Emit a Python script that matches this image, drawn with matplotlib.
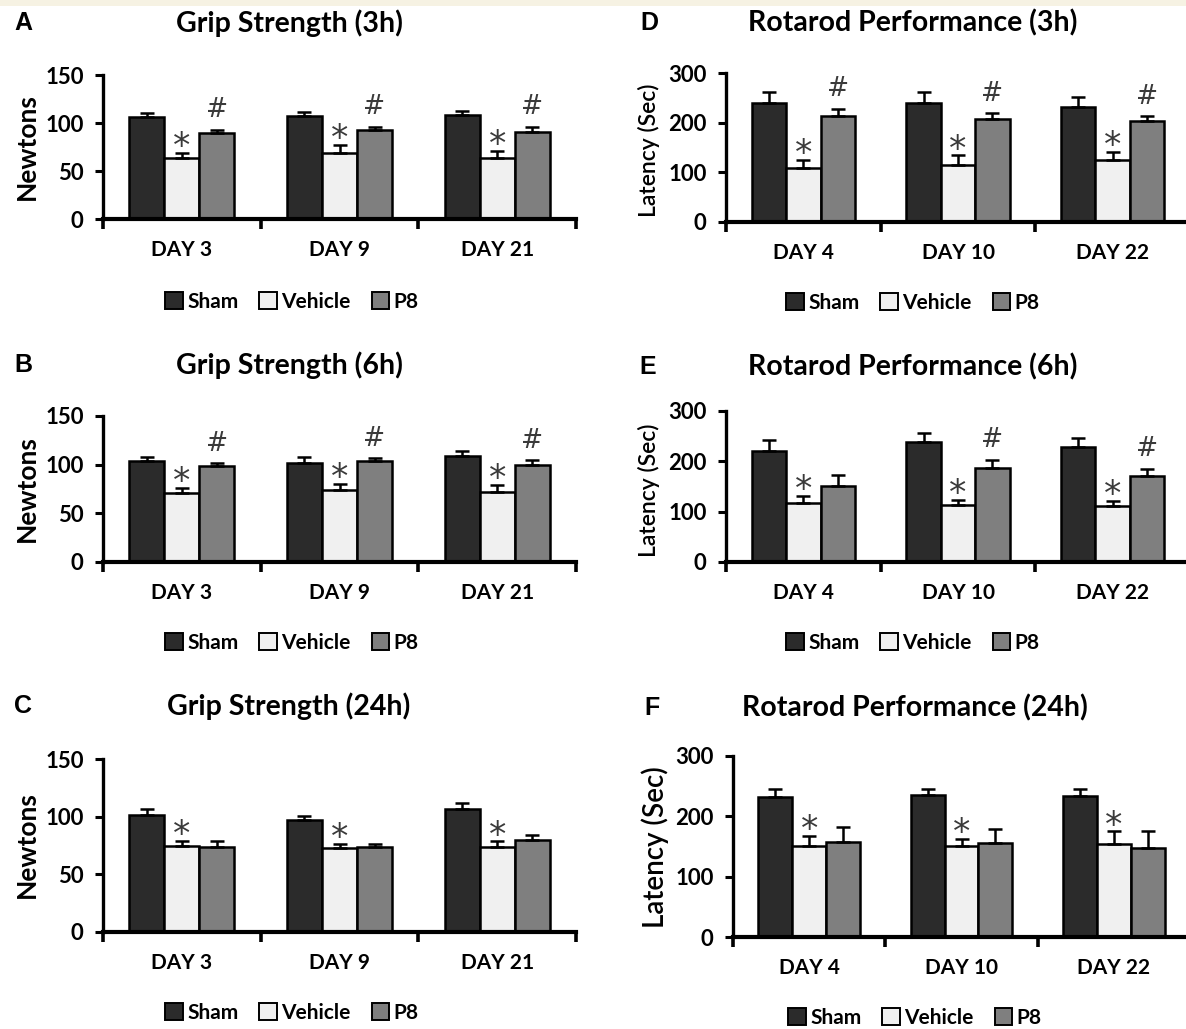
import matplotlib
matplotlib.use('Agg')
import matplotlib.pyplot as plt
from matplotlib.patches import Patch, Rectangle
import numpy as np

W, H = 1186, 1029
DPI = 100

plt.rcParams['font.family'] = ['Lato', 'DejaVu Sans']

groups = ['Sham', 'Vehicle', 'P8']
colors = ['#2b2b2b', '#f0f0f0', '#7f7f7f']

grip_days = ['DAY 3', 'DAY 9', 'DAY 21']
rota_days = ['DAY 4', 'DAY 10', 'DAY 22']

# grip strength (Newtons): means and upper SEM per group
grip3_sham, grip3_sham_err = [106, 107, 108], [4, 4, 5]
grip3_veh, grip3_veh_err = [63.5, 69, 63.5], [5, 8, 7.5]
grip3_p8, grip3_p8_err = [89.5, 92.5, 91], [3.5, 3.5, 5]

grip6_sham, grip6_sham_err = [104, 101.5, 108.5], [3.5, 6, 5.5]
grip6_veh, grip6_veh_err = [70.5, 74, 72], [5.5, 6, 7.5]
grip6_p8, grip6_p8_err = [98.5, 103.5, 100], [3, 3, 4.5]

grip24_sham, grip24_sham_err = [101.5, 97.5, 106.5], [5, 3.5, 5]
grip24_veh, grip24_veh_err = [75, 73, 73.5], [4, 3.5, 5]
grip24_p8, grip24_p8_err = [74, 73.5, 80], [5, 2.5, 4.5]

# rotarod latency (sec)
rota3_sham, rota3_sham_err = [240, 240, 231], [22, 21, 20]
rota3_veh, rota3_veh_err = [108, 114, 124], [17, 20, 17]
rota3_p8, rota3_p8_err = [213, 208, 203], [15, 11, 10]

rota6_sham, rota6_sham_err = [220, 239, 229], [22, 18, 17]
rota6_veh, rota6_veh_err = [118, 113, 111], [13, 10, 10]
rota6_p8, rota6_p8_err = [151, 186, 171], [22, 17, 14]

rota24_sham, rota24_sham_err = [232, 235, 234], [13, 11, 11]
rota24_veh, rota24_veh_err = [151, 151, 154], [16, 12, 21]
rota24_p8, rota24_p8_err = [157, 156, 148], [25, 23, 27]

# significance marks: * vs sham, # vs vehicle
grip3_star, grip3_hash = [1, 1, 1], [1, 1, 1]
grip6_star, grip6_hash = [1, 1, 1], [1, 1, 1]
grip24_star, grip24_hash = [1, 1, 1], [0, 0, 0]
rota3_star, rota3_hash = [1, 1, 1], [1, 1, 1]
rota6_star, rota6_hash = [1, 1, 1], [0, 1, 1]
rota24_star, rota24_hash = [1, 1, 1], [0, 0, 0]


def px_rect(l, t, r, b):
    return [l / W, 1 - b / H, (r - l) / W, (b - t) / H]


def fy(y):
    return 1 - y / H


panels = [
    dict(letter='A', title='Grip Strength (3h)', ylabel='Newtons', days=grip_days,
         means=[grip3_sham, grip3_veh, grip3_p8], errs=[grip3_sham_err, grip3_veh_err, grip3_p8_err],
         star=grip3_star, hash=grip3_hash, ymax=150, yticks=[0, 50, 100, 150],
         rect=(103, 75, 576, 219), title_y=23, title_x=289, letter_x=14,
         ylab=(27, 147, 19, 'bold'), leg=(292, 302)),
    dict(letter='B', title='Grip Strength (6h)', ylabel='Newtons', days=grip_days,
         means=[grip6_sham, grip6_veh, grip6_p8], errs=[grip6_sham_err, grip6_veh_err, grip6_p8_err],
         star=grip6_star, hash=grip6_hash, ymax=150, yticks=[0, 50, 100, 150],
         rect=(103, 416, 576, 562), title_y=365, title_x=289, letter_x=14,
         ylab=(27, 489, 19, 'bold'), leg=(292, 643)),
    dict(letter='C', title='Grip Strength (24h)', ylabel='Newtons', days=grip_days,
         means=[grip24_sham, grip24_veh, grip24_p8], errs=[grip24_sham_err, grip24_veh_err, grip24_p8_err],
         star=grip24_star, hash=grip24_hash, ymax=150, yticks=[0, 50, 100, 150],
         rect=(103, 759, 576, 932), title_y=706, title_x=289, letter_x=14,
         ylab=(27, 845, 19, 'bold'), leg=(292, 1013)),
    dict(letter='D', title='Rotarod Performance (3h)', ylabel='Latency (Sec)', days=rota_days,
         means=[rota3_sham, rota3_veh, rota3_p8], errs=[rota3_sham_err, rota3_veh_err, rota3_p8_err],
         star=rota3_star, hash=rota3_hash, ymax=300, yticks=[0, 100, 200, 300],
         rect=(726, 73, 1190, 222), title_y=23, title_x=913, letter_x=640,
         ylab=(649, 150, 16.5, 'semibold'), leg=(913, 303)),
    dict(letter='E', title='Rotarod Performance (6h)', ylabel='Latency (Sec)', days=rota_days,
         means=[rota6_sham, rota6_veh, rota6_p8], errs=[rota6_sham_err, rota6_veh_err, rota6_p8_err],
         star=rota6_star, hash=rota6_hash, ymax=300, yticks=[0, 100, 200, 300],
         rect=(726, 411, 1190, 562), title_y=367, title_x=913, letter_x=639,
         ylab=(649, 490, 16.5, 'semibold'), leg=(913, 643)),
    dict(letter='F', title='Rotarod Performance (24h)', ylabel='Latency (Sec)', days=rota_days,
         means=[rota24_sham, rota24_veh, rota24_p8], errs=[rota24_sham_err, rota24_veh_err, rota24_p8_err],
         star=rota24_star, hash=rota24_hash, ymax=300, yticks=[0, 100, 200, 300],
         rect=(733, 756, 1190, 937), title_y=708, title_x=915, letter_x=644,
         ylab=(655, 847, 20, 'semibold'), leg=(915, 1018)),
]

fig = plt.figure(figsize=(W / DPI, H / DPI), dpi=DPI)
fig.patch.set_facecolor('white')
# thin cream strip along the top edge
fig.patches.append(Rectangle((0, fy(6)), 1, 6 / H, transform=fig.transFigure,
                             facecolor='#f6f2e3', edgecolor='none', zorder=0))

handles = [Patch(facecolor=c, edgecolor='black', linewidth=1.4) for c in colors]
bw = 1 / 4.5
centers = np.arange(3) + 0.5

for p in panels:
    ax = fig.add_axes(px_rect(*p['rect']))
    for k in range(3):
        xs = centers + (k - 1) * bw
        ax.bar(xs, p['means'][k], width=bw, color=colors[k], edgecolor='black',
               linewidth=1.8, zorder=2)
        ax.errorbar(xs, p['means'][k], yerr=[np.zeros(3), p['errs'][k]], fmt='none',
                    ecolor='black', elinewidth=1.8, capsize=5, capthick=1.8, zorder=3)
    for i in range(3):
        if p['star'][i]:
            top = p['means'][1][i] + p['errs'][1][i]
            ax.annotate('*', (centers[i], top), xytext=(0, -3), textcoords='offset points',
                        ha='center', va='baseline', fontsize=25, color='#3a3a3a',
                        family='DejaVu Sans', annotation_clip=False)
        if p['hash'][i]:
            top = p['means'][2][i] + p['errs'][2][i]
            ax.annotate('#', (centers[i] + bw, top), xytext=(0, 9), textcoords='offset points',
                        ha='center', va='baseline', fontsize=19, color='#3a3a3a',
                        family='DejaVu Sans', annotation_clip=False)

    ax.set_xlim(0, 3)
    ax.set_ylim(0, p['ymax'])
    for s in ['top', 'right']:
        ax.spines[s].set_visible(False)
    ax.spines['left'].set_linewidth(2.4)
    ax.spines['bottom'].set_linewidth(3.0)
    ax.set_xticks([0, 1, 2, 3])
    ax.set_xticklabels([])
    ax.tick_params(axis='x', which='major', direction='out', length=7, width=2.6)
    ax.set_xticks(centers, minor=True)
    ax.set_xticklabels(p['days'], minor=True, fontweight='bold')
    ax.tick_params(axis='x', which='minor', length=0, pad=15, labelsize=15)
    ax.set_yticks(p['yticks'])
    ax.set_yticklabels([str(t) for t in p['yticks']], fontweight='bold')
    ax.tick_params(axis='y', direction='out', length=6, width=2.2, pad=8, labelsize=16)

    fig.text(p['letter_x'] / W, fy(p['title_y']), p['letter'], ha='left', va='center',
             fontsize=18, fontweight='bold', family='Liberation Sans')
    fig.text(p['title_x'] / W, fy(p['title_y']), p['title'], ha='center', va='center',
             fontsize=20.5, fontweight='bold')
    lx, ly, lsize, lweight = p['ylab']
    fig.text(lx / W, fy(ly), p['ylabel'], rotation=90, ha='center', va='center',
             fontsize=lsize, fontweight=lweight)
    fig.legend(handles, groups, loc='center', bbox_to_anchor=(p['leg'][0] / W, fy(p['leg'][1])),
               ncol=3, frameon=False, prop={'weight': 'bold', 'size': 15},
               handlelength=0.85, handleheight=0.85, handletextpad=0.2, columnspacing=1.0,
               borderpad=0)

fig.savefig('out.png', dpi=DPI)
